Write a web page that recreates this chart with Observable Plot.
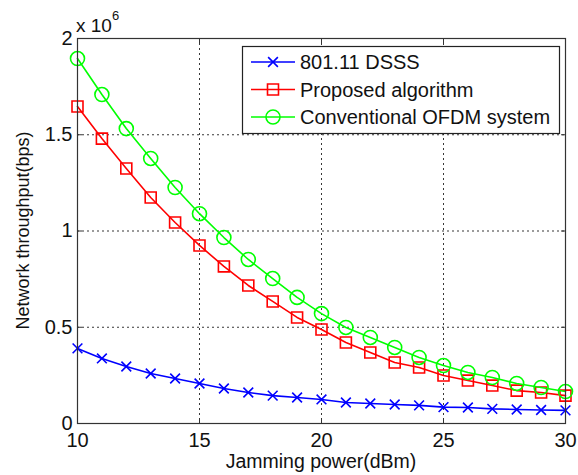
<!DOCTYPE html>
<html>
<head>
<meta charset="utf-8">
<script src="https://cdn.jsdelivr.net/npm/d3@7"></script>
<script src="https://cdn.jsdelivr.net/npm/@observablehq/plot@0.6"></script>
<style>
  html, body { margin: 0; padding: 0; background: #fff; }
  #chart { position: relative; width: 578px; height: 475px; }
</style>
</head>
<body>
<div id="chart"></div>
<script>
const jammingPower = [10,11,12,13,14,15,16,17,18,19,20,21,22,23,24,25,26,27,28,29,30];
const dsss = [0.39,0.338,0.296,0.26,0.234,0.208,0.182,0.161,0.145,0.135,0.125,0.109,0.104,0.099,0.094,0.085,0.083,0.076,0.073,0.07,0.068];
const proposed = [1.647,1.48,1.325,1.174,1.044,0.925,0.816,0.717,0.634,0.551,0.488,0.421,0.369,0.317,0.291,0.249,0.223,0.197,0.171,0.161,0.145];
const ofdm = [1.896,1.709,1.532,1.377,1.226,1.09,0.966,0.852,0.753,0.655,0.571,0.499,0.447,0.395,0.343,0.301,0.265,0.239,0.208,0.187,0.166];
const seriesNames = ["801.11 DSSS", "Proposed algorithm", "Conventional OFDM system"];
const seriesColors = ["#0000ff", "#ff0000", "#00ff00"];
const seriesSymbols = ["times", "square", "circle"];
const xTicks = [10, 15, 20, 25, 30];
const yTicks = [0, 0.5, 1, 1.5, 2];
const xLabel = "Jamming power(dBm)";
const yLabel = "Network throughput(bps)";

(function () {
const seriesValues = [dsss, proposed, ofdm];
const rows = [];
seriesValues.forEach((vals, si) => vals.forEach((v, i) => rows.push({x: jammingPower[i], y: v, s: seriesNames[si]})));

const font = "'Liberation Sans', Arial, sans-serif";
const dotR = {"times": 4.5, "square": 6.2, "circle": 7};

const marks = [
  Plot.gridX(xTicks.slice(1, -1), {stroke: "#222", strokeOpacity: 0.9, strokeDasharray: "2,3", strokeWidth: 1}),
  Plot.gridY(yTicks.slice(1, -1), {stroke: "#222", strokeOpacity: 0.9, strokeDasharray: "2,3", strokeWidth: 1}),
];
seriesNames.forEach((name, si) => {
  const d = rows.filter(r => r.s === name);
  marks.push(Plot.line(d, {x: "x", y: "y", stroke: seriesColors[si], strokeWidth: 1.6}));
  marks.push(Plot.dot(d, {x: "x", y: "y", stroke: seriesColors[si], fill: "none", symbol: seriesSymbols[si], r: dotR[seriesSymbols[si]], strokeWidth: 1.6}));
});
marks.push(
  Plot.axisX(xTicks, {tickSize: -5, tickPadding: 14, stroke: "#333", fontSize: 20, fill: "#111", label: null}),
  Plot.axisX(xTicks, {anchor: "top", tickSize: -5, tickFormat: () => "", stroke: "#333", label: null}),
  Plot.axisY(yTicks, {tickSize: -5, tickPadding: 10, stroke: "#333", fontSize: 20, fill: "#111", tickFormat: d => String(d), label: null}),
  Plot.axisY(yTicks, {anchor: "right", tickSize: -5, tickFormat: () => "", stroke: "#333", label: null}),
  Plot.frame({stroke: "#333", strokeWidth: 1.2})
);

const plot = Plot.plot({
  width: 578,
  height: 475,
  marginLeft: 77,
  marginRight: 13,
  marginTop: 38,
  marginBottom: 52,
  style: {fontFamily: font, fontSize: "20px", background: "#fff", color: "#111"},
  x: {domain: [10, 30], label: null},
  y: {domain: [0, 2], label: null},
  marks
});
document.getElementById("chart").appendChild(plot);

const svg = d3.select(plot);
const L = 77, R = 565, T = 38, B = 423;

svg.append("text").attr("x", (L + R) / 2).attr("y", 468)
  .attr("text-anchor", "middle").attr("font-family", font).attr("font-size", 19.5).attr("fill", "#111").text(xLabel);
svg.append("text").attr("transform", `translate(29,${(T + B) / 2}) rotate(-90)`)
  .attr("text-anchor", "middle").attr("font-family", font).attr("font-size", 18).attr("fill", "#111").text(yLabel);
const ex = svg.append("text").attr("x", 76).attr("y", 32).attr("text-anchor", "start")
  .attr("font-family", font).attr("font-size", 19).attr("fill", "#111");
ex.append("tspan").text("x 10");
ex.append("tspan").attr("dy", -12).attr("font-size", 13).text("6");

const lg = svg.append("g").attr("text-anchor", "start");
lg.append("rect").attr("x", 242.5).attr("y", 46.5).attr("width", 317).attr("height", 87)
  .attr("fill", "#fff").attr("stroke", "#222").attr("stroke-width", 1.2);
seriesNames.forEach((name, i) => {
  const cy = 62 + i * 27.5;
  lg.append("line").attr("x1", 251).attr("x2", 295).attr("y1", cy).attr("y2", cy)
    .attr("stroke", seriesColors[i]).attr("stroke-width", 1.6);
  const sym = {times: d3.symbolTimes, square: d3.symbolSquare, circle: d3.symbolCircle}[seriesSymbols[i]];
  const r = dotR[seriesSymbols[i]];
  lg.append("path").attr("transform", `translate(273,${cy})`).attr("d", d3.symbol(sym, r * r * Math.PI)())
    .attr("fill", "none").attr("stroke", seriesColors[i]).attr("stroke-width", 1.6);
  lg.append("text").attr("x", 300).attr("y", cy).attr("dy", "0.35em").attr("text-anchor", "start")
    .attr("font-family", font).attr("font-size", 20).attr("fill", "#111").text(name);
});
})();
</script>
</body>
</html>
